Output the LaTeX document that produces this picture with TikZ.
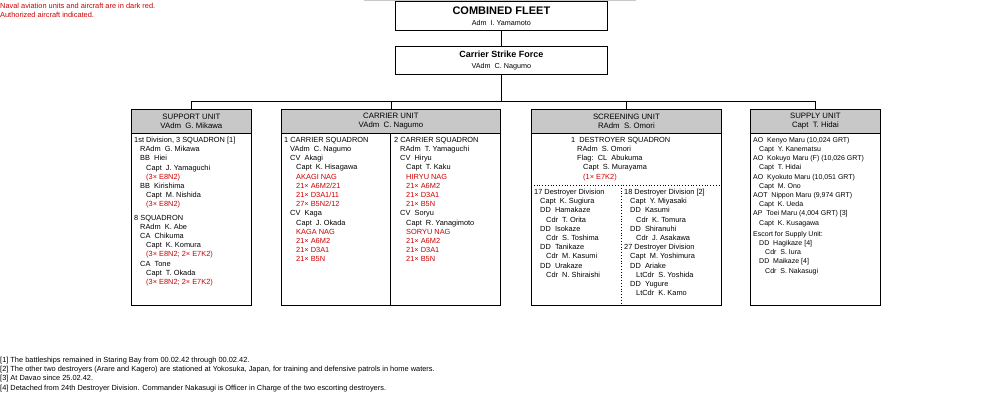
\documentclass[tikz,border=0pt]{standalone}
\usepackage{fontspec}
\setmainfont{Liberation Sans}
\usetikzlibrary{positioning}
\definecolor{navred}{HTML}{CC0000}
\definecolor{hdrgray}{HTML}{C8C8C8}
\newcommand\tb{\hspace*{6pt}}
\newcommand\av[1]{\textcolor{navred}{#1}}
\tikzset{
  box/.style={draw, line width=0.8pt, anchor=north west, inner sep=0pt},
  hdr/.style={box, fill=hdrgray, align=center, font=\fontsize{7.8}{9}\selectfont},
  txt/.style={anchor=north west, inner sep=0pt, align=left, font=\fontsize{7.4}{9.2}\selectfont},
  link/.style={line width=0.8pt}
}
\begin{document}
\begin{tikzpicture}[x=1pt,y=-1pt]
\useasboundingbox (0,0) rectangle (1000,400);
\draw[hdrgray, line width=1pt] (364,0.5) -- (636,0.5);
% legend
\node[txt, text=navred] (legend) at (0,3) {Naval aviation units and aircraft are in dark red.\\Authorized aircraft indicated.};
% command
\node[box, minimum width=212, minimum height=29, align=center] (fleet) at (395,1)
  {{\fontsize{11}{12}\selectfont\bfseries COMBINED FLEET}\\[-1pt]{\fontsize{7.2}{8}\selectfont Adm\ \ I. Yamamoto}};
\node[box, minimum width=212, minimum height=28, align=center] (strike) at (395,46)
  {{\fontsize{9}{10}\selectfont\bfseries Carrier Strike Force}\\[-1pt]{\fontsize{7.2}{8}\selectfont VAdm\ \ C. Nagumo}};
\coordinate (bus) at (strike.south |- 0,101);
% unit headers
\node[hdr, minimum width=120, minimum height=24] (support) at (131,109) {SUPPORT UNIT\\VAdm\ \ G. Mikawa};
\node[hdr, minimum width=219, minimum height=24] (carrier) at (281,109) {CARRIER UNIT\\VAdm\ \ C. Nagumo};
\node[hdr, minimum width=190, minimum height=24] (screen) at (531,109) {SCREENING UNIT\\RAdm\ \ S. Omori};
\node[hdr, minimum width=130, minimum height=24] (supply) at (750,109) {SUPPLY UNIT\\Capt\ \ T. Hidai};
% unit bodies
\draw[line width=0.8pt] (support.south west) rectangle (251,305);
\draw[line width=0.8pt] (carrier.south west) rectangle (500,305);
\draw[line width=0.8pt] (390,133) -- (390,305);
\draw[line width=0.8pt] (screen.south west) rectangle (721,305);
\draw[dotted, line width=0.8pt] (531,185) -- (721,185);
\draw[dotted, line width=0.8pt] (621,185) -- (621,305);
\draw[line width=0.8pt] (supply.south west) rectangle (880,305);
% connectors
\draw[link] (fleet.south) -- (strike.north);
\draw[link] (strike.south) -- (bus);
\draw[link] (support.north) |- (bus);
\draw[link] (carrier.north) |- (bus);
\draw[link] (screen.north) |- (bus);
\draw[link] (supply.north) |- (bus);
% support unit
\node[txt] (supportlist) at (134,137) {1st Division, 3 SQUADRON [1]\\
\tb RAdm\ \ G. Mikawa\\ \tb BB\ \ Hiei\\ \tb\tb Capt\ \ J. Yamaguchi\\ \tb\tb\av{(3× E8N2)}\\
\tb BB\ \ Kirishima\\ \tb\tb Capt\ \ M. Nishida\\ \tb\tb\av{(3× E8N2)}\\[4pt]
8 SQUADRON\\ \tb RAdm\ \ K. Abe\\ \tb CA\ \ Chikuma\\ \tb\tb Capt\ \ K. Komura\\ \tb\tb\av{(3× E8N2; 2× E7K2)}\\
\tb CA\ \ Tone\\ \tb\tb Capt\ \ T. Okada\\ \tb\tb\av{(3× E8N2; 2× E7K2)}};
% carrier unit
\node[txt] (cardiv1) at (284,137) {1 CARRIER SQUADRON\\ \tb VAdm\ \ C. Nagumo\\ \tb CV\ \ Akagi\\
\tb\tb Capt\ \ K. Hisagawa\\ \tb\tb\av{AKAGI NAG}\\ \tb\tb\av{21× A6M2/21}\\ \tb\tb\av{21× D3A1/11}\\ \tb\tb\av{27× B5N2/12}\\
\tb CV\ \ Kaga\\ \tb\tb Capt\ \ J. Okada\\ \tb\tb\av{KAGA NAG}\\ \tb\tb\av{21× A6M2}\\ \tb\tb\av{21× D3A1}\\ \tb\tb\av{21× B5N}};
\node[txt] (cardiv2) at (394,137) {2 CARRIER SQUADRON\\ \tb RAdm\ \ T. Yamaguchi\\ \tb CV\ \ Hiryu\\
\tb\tb Capt\ \ T. Kaku\\ \tb\tb\av{HIRYU NAG}\\ \tb\tb\av{21× A6M2}\\ \tb\tb\av{21× D3A1}\\ \tb\tb\av{21× B5N}\\
\tb CV\ \ Soryu\\ \tb\tb Capt\ \ R. Yanagimoto\\ \tb\tb\av{SORYU NAG}\\ \tb\tb\av{21× A6M2}\\ \tb\tb\av{21× D3A1}\\ \tb\tb\av{21× B5N}};
% screening unit
\node[txt] (desron) at (571,137) {1\ \ DESTROYER SQUADRON\\ \tb RAdm\ \ S. Omori\\ \tb Flag:\ \ CL\ \ Abukuma\\
\tb\tb Capt\ \ S. Murayama\\ \tb\tb\av{(1× E7K2)}};
\node[txt] (desdiv17) at (534,189) {17 Destroyer Division\\ \tb Capt\ \ K. Sugiura\\ \tb DD\ \ Hamakaze\\ \tb\tb Cdr\ \ T. Orita\\
\tb DD\ \ Isokaze\\ \tb\tb Cdr\ \ S. Toshima\\ \tb DD\ \ Tanikaze\\ \tb\tb Cdr\ \ M. Kasumi\\ \tb DD\ \ Urakaze\\ \tb\tb Cdr\ \ N. Shiraishi};
\node[txt] (desdiv18) at (624,189) {18 Destroyer Division [2]\\ \tb Capt\ \ Y. Miyasaki\\ \tb DD\ \ Kasumi\\ \tb\tb Cdr\ \ K. Tomura\\
\tb DD\ \ Shiranuhi\\ \tb\tb Cdr\ \ J. Asakawa\\ 27 Destroyer Division\\ \tb Capt\ \ M. Yoshimura\\ \tb DD\ \ Ariake\\ \tb\tb LtCdr\ \ S. Yoshida\\
\tb DD\ \ Yugure\\ \tb\tb LtCdr\ \ K. Kamo};
% supply unit
\node[txt, font=\fontsize{7}{9.2}\selectfont] (supplylist) at (753,137) {AO\ \ Kenyo Maru (10,024 GRT)\\ \tb Capt\ \ Y. Kanematsu\\
AO\ \ Kokuyo Maru (F) (10,026 GRT)\\ \tb Capt\ \ T. Hidai\\ AO\ \ Kyokuto Maru (10,051 GRT)\\ \tb Capt\ \ M. Ono\\
AOT\ \ Nippon Maru (9,974 GRT)\\ \tb Capt\ \ K. Ueda\\ AP\ \ Toei Maru (4,004 GRT) [3]\\ \tb Capt\ \ K. Kusagawa\\[2pt]
Escort for Supply Unit:\\ \tb DD\ \ Hagikaze [4]\\ \tb\tb Cdr\ \ S. Iura\\ \tb DD\ \ Maikaze [4]\\ \tb\tb Cdr\ \ S. Nakasugi};
% footnotes
\node[txt] (notes) at (0,357) {{[1]} The battleships remained in Staring Bay from 00.02.42 through 00.02.42.\\
{[2]} The other two destroyers (Arare and Kagero) are stationed at Yokosuka, Japan, for training and defensive patrols in home waters.\\
{[3]} At Davao since 25.02.42.\\
{[4]} Detached from 24th Destroyer Division. Commander Nakasugi is Officer in Charge of the two escorting destroyers.};
\end{tikzpicture}
\end{document}
